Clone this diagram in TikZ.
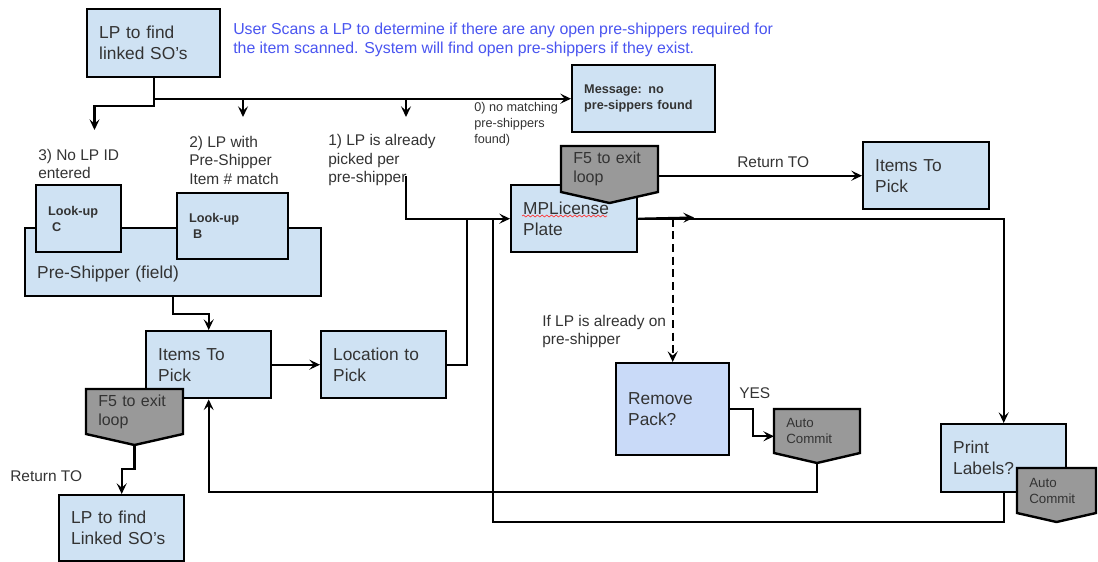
\documentclass[tikz,border=0pt]{standalone}
\usepackage{fontspec}
\setmainfont{Liberation Sans}
\usetikzlibrary{arrows.meta,decorations.pathmorphing}
\definecolor{BoxBlue}{HTML}{CFE2F3}
\definecolor{PackBlue}{HTML}{C9DAF8}
\definecolor{TagGray}{HTML}{999999}
\definecolor{NoteBlue}{HTML}{4A55F0}
\definecolor{InkGray}{HTML}{333333}
\tikzset{box/.style={draw=black,line width=1.8pt,fill=BoxBlue,text=InkGray,align=left,anchor=north west,inner xsep=9pt,inner ysep=0pt,font=\fontsize{13}{15.75}\selectfont},
boxsize/.style 2 args={text width={((#1)-24)*0.75pt},minimum height={(#2)*0.75pt}},
boldsmall/.style={font=\bfseries\fontsize{9.5}{12}\selectfont},
lab/.style={anchor=west,inner sep=0pt,align=left,text=InkGray,font=\fontsize{11.6}{13.9}\selectfont},
tagshape/.style={draw=black,line width=1.8pt,fill=TagGray},
tagtxt/.style={anchor=north west,inner xsep=9pt,inner ysep=0pt,align=left,text=InkGray},
conn/.style={line width=1.6pt},
arr/.style={-{Stealth[length=8pt,width=7.5pt,inset=3.2pt]},line width=1.6pt}}
\begin{document}
\begin{tikzpicture}[x=0.75pt,y=-0.75pt]
\useasboundingbox (0,0) rectangle (1098,561);
\node[box,boxsize={133}{68}] (lptop) at (86,8) {LP to find\\linked SO’s};
\node[box,boxsize={143}{67},boldsmall] (msg) at (571,64) {Message: no\\pre-sippers found};
\node[box,boxsize={296}{68}] (pre) at (24,227) {\strut\\Pre-Shipper (field)};
\node[box,boxsize={85}{67},boldsmall] (lkc) at (35,184) {Look-up\\\hspace*{3pt}C};
\node[box,boxsize={111}{66},boldsmall] (lkb) at (176,192) {Look-up\\\hspace*{3pt}B};
\node[box,boxsize={125}{67}] (itemsl) at (145,330) {Items To\\Pick};
\node[box,boxsize={125}{67}] (loc) at (320,330) {Location to\\Pick};
\node[box,boxsize={126}{67}] (mpl) at (510,184) {MPLicense\\Plate};
\node[box,boxsize={126}{67}] (itemsr) at (862,141) {Items To\\Pick};
\node[box,boxsize={113}{92},fill=PackBlue] (rem) at (615,362) {Remove\\Pack?};
\node[box,boxsize={125}{68}] (prt) at (940,423) {Print\\Labels?};
\node[box,boxsize={125}{66}] (lpbot) at (58,494) {LP to find\\Linked SO’s};
\draw[red!80,line width=0.5pt,decorate,decoration={snake,amplitude=0.7pt,segment length=3.5pt}] (522,216) -- (607,216);
\foreach \nm/\xa/\ya/\xb/\yb/\tip/\fs/\fl/\txt in {f5a/561/146/658/192/203/12/14.25/{F5 to exit\\loop},f5b/86/389/183/434/445/12/14.25/{F5 to exit\\loop},aca/774/409/860/453/463/10/12/{Auto\\Commit},acb/1017/468/1096/513/522/10/12/{Auto\\Commit}}{
\filldraw[tagshape] (\xa,\ya) -- (\xb,\ya) -- (\xb,\yb) -- ({(\xa+\xb)/2},\tip) -- (\xa,\yb) -- cycle;
\node[tagtxt,boxsize={\xb-\xa}{\yb-\ya},font=\fontsize{\fs}{\fl}\selectfont] (\nm) at (\xa,\ya) {\txt};
\coordinate (\nm-tip) at ({(\xa+\xb)/2},\tip);}
\coordinate (o3) at (94.5,130);
\coordinate (o2) at (243,117);
\coordinate (o1) at (406,117);
\coordinate (p1) at (406,176);
\coordinate (j1) at (467,217.5);
\coordinate (j2) at (493,217.5);
\coordinate (mid) at (694,217.5);
\draw[arr] (lptop.south) -- ++(0,28) -| (o3);
\draw[arr] (lptop.south |- msg.west) -- (msg.west);
\foreach \o in {o2,o1} \draw[arr] (\o |- msg.west) -- (\o);
\draw[arr] (p1) |- (mpl.west);
\draw[arr] (pre.south) -- ++(0,17) -| (itemsl.north);
\draw[arr] (itemsl.east) -- (loc.west);
\draw[conn] (loc.east) -| (j1);
\draw[conn] (prt.south) -- ++(0,29) -| (j2);
\draw[arr] (mpl.east) -| (prt.north);
\draw[arr] (mpl.east) -- (mid);
\draw[arr,dash pattern=on 6pt off 3.5pt] (rem.north |- mpl.east) -- (rem.north);
\draw[arr] (f5a.east |- itemsr.west) -- (itemsr.west);
\draw[arr] (rem.east) -- ++(23,0) |- ([yshift=-3.75pt]aca.west);
\draw[arr] (aca-tip) -- ++(0,29) -| (itemsl.south);
\draw[arr] (f5b-tip) -- ++(0,24) -| (lpbot.north);
\node[lab,font=\fontsize{11.9}{14.25}\selectfont,text=NoteBlue] (note) at (233,39.5) {User Scans a LP to determine if there are any open pre-shippers required for\\the item scanned. System will find open pre-shippers if they exist.};
\node[lab,font=\fontsize{9.5}{12}\selectfont] (l0) at (474,124) {0) no matching\\pre-shippers\\found)};
\node[lab] (l3) at (38,164) {3) No LP ID\\entered};
\node[lab] (l2) at (189,160) {2) LP with\\Pre-Shipper\\Item \# match};
\node[lab] (l1) at (328,160) {1) LP is already\\picked per\\pre-shipper};
\node[lab] (ret1) at (737,162) {Return TO};
\node[lab] (ifon) at (542,331.5) {If LP is already on\\pre-shipper};
\node[lab] (yes) at (739,393) {YES};
\node[lab] (ret2) at (10,476) {Return TO};
\end{tikzpicture}
\end{document}
